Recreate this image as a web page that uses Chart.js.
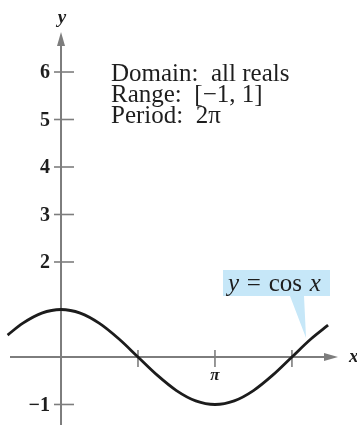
<!DOCTYPE html>
<html>
<head>
<meta charset="utf-8">
<script src="https://cdn.jsdelivr.net/npm/chart.js@4.4.1/dist/chart.umd.min.js"></script>
<style>
  html, body { margin: 0; padding: 0; background: #fff; }
  canvas { display: block; }
</style>
</head>
<body>
<canvas id="cosChart" width="357" height="425"></canvas>
<script>
// sample points of y = cos x, every pi/8 across the visible window
const xValues = [-1.09, -0.785, -0.393, 0, 0.393, 0.785, 1.178, 1.571, 1.963, 2.356, 2.749,
                 3.142, 3.534, 3.927, 4.320, 4.712, 5.105, 5.45];
const yValues = [0.462, 0.707, 0.924, 1, 0.924, 0.707, 0.383, 0, -0.383, -0.707, -0.924,
                 -1, -0.924, -0.707, -0.383, 0, 0.383, 0.669];

// tick positions and labels
const yTicks = [-1, 2, 3, 4, 5, 6];
const yTickLabels = ["\u22121", "2", "3", "4", "5", "6"];
const xTicks = [1.5708, 3.1416, 4.7124];
const xTickLabels = ["", "\u03c0", ""];

const infoLines = ["Domain:  all reals", "Range:  [\u22121, 1]", "Period:  2\u03c0"];

const AXIS = "#7d7d7d";
const INK = "#1e1e1e";
const SERIF = "'Liberation Serif', 'DejaVu Serif', serif";

// axes, arrows, ticks and labels drawn under the curve
const axesPlugin = {
    id: "axesPlugin",
    beforeDatasetsDraw(chart) {
        const ctx = chart.ctx;
        const xs = chart.scales.x, ys = chart.scales.y;
        const ox = xs.getPixelForValue(0);
        const oy = ys.getPixelForValue(0);
        ctx.save();
        ctx.strokeStyle = AXIS;
        ctx.fillStyle = AXIS;
        ctx.lineWidth = 2;

        // x axis
        ctx.beginPath();
        ctx.moveTo(10, oy);
        ctx.lineTo(330, oy);
        ctx.stroke();
        ctx.beginPath();
        ctx.moveTo(338, oy);
        ctx.lineTo(324, oy - 4);
        ctx.lineTo(324, oy + 4);
        ctx.closePath();
        ctx.fill();

        // y axis
        ctx.beginPath();
        ctx.moveTo(ox, chart.height);
        ctx.lineTo(ox, 40);
        ctx.stroke();
        ctx.beginPath();
        ctx.moveTo(ox, 32);
        ctx.lineTo(ox - 4, 46);
        ctx.lineTo(ox + 4, 46);
        ctx.closePath();
        ctx.fill();

        // y ticks + labels
        yTicks.forEach((v, i) => {
            const py = ys.getPixelForValue(v);
            ctx.strokeStyle = AXIS;
            ctx.lineWidth = 1.6;
            ctx.beginPath();
            ctx.moveTo(ox - 7, py);
            ctx.lineTo(ox + 13, py);
            ctx.stroke();
            ctx.font = "bold 20px " + SERIF;
            ctx.textAlign = "right";
            ctx.textBaseline = "middle";
            ctx.fillStyle = INK;
            ctx.fillText(yTickLabels[i], ox - 11, py + 1);
        });

        // x ticks + labels
        xTicks.forEach((v, i) => {
            const px = xs.getPixelForValue(v);
            ctx.strokeStyle = AXIS;
            ctx.beginPath();
            ctx.moveTo(px, oy - 7);
            ctx.lineTo(px, oy + 10);
            ctx.stroke();
            if (xTickLabels[i]) {
                ctx.textAlign = "center";
                ctx.textBaseline = "top";
                ctx.font = "bold italic 17px " + SERIF;
                ctx.fillStyle = INK;
                ctx.fillText(xTickLabels[i], px, oy + 10);
            }
        });

        // axis names
        ctx.fillStyle = INK;
        ctx.font = "bold italic 19px " + SERIF;
        ctx.textAlign = "center";
        ctx.textBaseline = "alphabetic";
        ctx.fillText("y", ox + 1, 23);
        ctx.textAlign = "left";
        ctx.textBaseline = "middle";
        ctx.fillText("x", 349, oy);
        ctx.restore();
    },
    afterDatasetsDraw(chart) {
        const ctx = chart.ctx;
        const xs = chart.scales.x, ys = chart.scales.y;
        ctx.save();

        // info text block
        ctx.fillStyle = INK;
        ctx.font = "25px " + SERIF;
        ctx.textAlign = "left";
        ctx.textBaseline = "alphabetic";
        infoLines.forEach((t, i) => ctx.fillText(t, 111, 81 + i * 21));

        // callout pointing at the curve near x = 5
        const tipX = xs.getPixelForValue(5.0);
        const tipY = ys.getPixelForValue(0.4);
        ctx.fillStyle = "#c6e7f8";
        ctx.beginPath();
        ctx.moveTo(223, 270);
        ctx.lineTo(330, 270);
        ctx.lineTo(330, 296);
        ctx.lineTo(304, 296);
        ctx.lineTo(tipX, tipY);
        ctx.lineTo(290, 296);
        ctx.lineTo(223, 296);
        ctx.closePath();
        ctx.fill();

        ctx.fillStyle = INK;
        let x = 228;
        const base = 291;
        const parts = [["italic 25px ", "y"], ["25px ", " = "], ["25px ", "cos "], ["italic 25px ", "x"]];
        parts.forEach(p => {
            ctx.font = p[0] + SERIF;
            ctx.fillText(p[1], x, base);
            x += ctx.measureText(p[1]).width + 1.5;
        });
        ctx.restore();
    }
};

const ctx = document.getElementById("cosChart");
new Chart(ctx, {
    type: "scatter",
    data: {
        datasets: [{
            label: "y = cos x",
            data: xValues.map((v, i) => ({ x: v, y: yValues[i] })),
            showLine: true,
            borderColor: "#1c1c1c",
            borderWidth: 2.8,
            pointRadius: 0,
            cubicInterpolationMode: "monotone",
            fill: false
        }]
    },
    options: {
        responsive: false,
        animation: false,
        layout: { padding: 0 },
        plugins: {
            legend: { display: false },
            tooltip: { enabled: false }
        },
        scales: {
            x: { type: "linear", min: -1.245, max: 6.04, display: false },
            y: { type: "linear", min: -1.432, max: 7.516, display: false }
        }
    },
    plugins: [axesPlugin]
});
</script>
</body>
</html>
